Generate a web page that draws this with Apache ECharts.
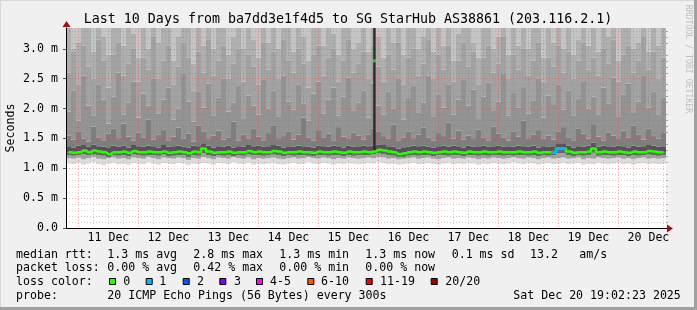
<!DOCTYPE html>
<html><head><meta charset="utf-8">
<script src="https://cdn.jsdelivr.net/npm/echarts@6/dist/echarts.min.js"></script>
<style>html,body{margin:0;padding:0;background:#f0f0f0}#c{width:697px;height:310px}</style>
</head><body><div id="c"></div>
<script>
// ---- data (ms), 120 bins of 2 h from 10 Dec 19:02 to 20 Dec 19:02 ----
const yMax = 3.35;
const startH = 19.04, endH = 259.04; // hours since 10 Dec 00:00
const dayTicks = [24,48,72,96,120,144,168,192,216,240];
const dayLabelPos = [36,60,84,108,132,156,180,204,228,252];
const dayLabels = ['11 Dec','12 Dec','13 Dec','14 Dec','15 Dec','16 Dec','17 Dec','18 Dec','19 Dec','20 Dec'];
const sixHourTicks = [30,36,42,54,60,66,78,84,90,102,108,114,126,132,138,150,156,162,174,180,186,198,204,210,222,228,234,246,252,258];
const yMajor = [0,0.5,1,1.5,2,2.5,3];
const yMinor = [0.1,0.2,0.3,0.4,0.6,0.7,0.8,0.9,1.1,1.2,1.3,1.4,1.6,1.7,1.8,1.9,2.1,2.2,2.3,2.4,2.6,2.7,2.8,2.9,3.1,3.2,3.3];

const med = [1.27,1.26,1.27,1.30,1.27,1.30,1.28,1.27,1.24,1.27, 1.27,1.28,1.26,1.29,1.27,1.27,1.28,1.27,1.27,1.28, 1.26,1.27,1.28,1.27,1.25,1.28,1.27,1.33,1.28,1.26, 1.27,1.27,1.28,1.26,1.27,1.27,1.29,1.27,1.28,1.27, 1.27,1.29,1.28,1.26,1.27,1.27,1.28,1.27,1.27,1.26, 1.28,1.27,1.27,1.28,1.27,1.26,1.28,1.27,1.27,1.28, 1.27,1.28,1.31,1.30,1.28,1.27,1.24,1.25,1.27,1.28, 1.27,1.28,1.27,1.26,1.27,1.28,1.27,1.28,1.27,1.26, 1.28,1.27,1.27,1.28,1.27,1.27,1.28,1.27,1.27,1.27, 1.28,1.27,1.27,1.28,1.26,1.27,1.27,1.27,1.33,1.33, 1.28,1.26,1.27,1.27,1.28,1.33,1.27,1.28,1.27,1.27, 1.28,1.27,1.26,1.28,1.27,1.27,1.29,1.28,1.27,1.27];
const lossBins = [97,98,99];
const lowA = [1.08,1.07,1.09,1.06,1.08,1.10,1.07,1.05,1.08,1.09, 1.07,1.08,1.06,1.09,1.08,1.07,1.10,1.08,1.06,1.09, 1.08,1.07,1.09,1.08,1.05,1.08,1.07,1.09,1.08,1.06, 1.09,1.08,1.07,1.10,1.08,1.07,1.09,1.06,1.08,1.07, 1.08,1.09,1.07,1.06,1.08,1.09,1.07,1.08,1.10,1.08, 1.07,1.09,1.08,1.06,1.08,1.07,1.09,1.08,1.07,1.08, 1.09,1.08,1.10,1.09,1.07,1.08,1.06,1.07,1.08,1.09, 1.07,1.08,1.09,1.07,1.06,1.08,1.09,1.07,1.08,1.07, 1.09,1.08,1.06,1.08,1.07,1.09,1.08,1.07,1.08,1.10, 1.08,1.07,1.09,1.08,1.06,1.08,1.09,1.07,1.08,1.09, 1.07,1.08,1.09,1.06,1.08,1.07,1.09,1.08,1.07,1.08, 1.09,1.07,1.08,1.06,1.08,1.09,1.07,1.08,1.07,1.08];
const lowB = [1.17,1.16,1.18,1.15,1.17,1.19,1.16,1.15,1.17,1.18, 1.16,1.17,1.15,1.18,1.17,1.16,1.19,1.17,1.15,1.18, 1.17,1.16,1.18,1.17,1.14,1.17,1.16,1.19,1.17,1.15, 1.18,1.17,1.16,1.19,1.17,1.16,1.18,1.15,1.17,1.16, 1.17,1.18,1.16,1.15,1.17,1.18,1.16,1.17,1.19,1.17, 1.16,1.18,1.17,1.15,1.17,1.16,1.18,1.17,1.16,1.17, 1.18,1.17,1.19,1.18,1.16,1.17,1.15,1.16,1.17,1.18, 1.16,1.17,1.18,1.16,1.15,1.17,1.18,1.16,1.17,1.16, 1.18,1.17,1.15,1.17,1.16,1.18,1.17,1.16,1.17,1.19, 1.17,1.16,1.18,1.17,1.15,1.17,1.18,1.16,1.17,1.18, 1.16,1.17,1.18,1.15,1.17,1.16,1.18,1.17,1.16,1.17, 1.18,1.16,1.17,1.15,1.17,1.18,1.16,1.17,1.16,1.17];
const lowC = [1.22,1.21,1.22,1.24,1.22,1.23,1.22,1.21,1.19,1.22, 1.21,1.22,1.20,1.23,1.22,1.21,1.22,1.22,1.21,1.23, 1.20,1.21,1.22,1.22,1.19,1.22,1.21,1.25,1.22,1.20, 1.22,1.21,1.22,1.20,1.22,1.21,1.23,1.22,1.22,1.21, 1.22,1.23,1.22,1.20,1.22,1.21,1.22,1.22,1.21,1.20, 1.22,1.22,1.21,1.22,1.22,1.20,1.22,1.21,1.22,1.22, 1.22,1.24,1.25,1.24,1.22,1.21,1.19,1.19,1.21,1.22, 1.21,1.22,1.22,1.20,1.22,1.22,1.21,1.22,1.22,1.20, 1.22,1.22,1.21,1.22,1.21,1.22,1.22,1.21,1.22,1.21, 1.22,1.22,1.21,1.22,1.20,1.22,1.21,1.22,1.25,1.25, 1.22,1.20,1.22,1.21,1.22,1.26,1.21,1.22,1.22,1.21, 1.22,1.22,1.20,1.22,1.21,1.22,1.23,1.22,1.21,1.22];
const h1 = [1.37,1.35,1.38,1.39,1.36,1.40,1.37,1.36,1.34,1.38, 1.36,1.38,1.35,1.39,1.37,1.36,1.38,1.37,1.35,1.39, 1.36,1.37,1.38,1.36,1.35,1.38,1.37,1.42,1.38,1.35, 1.37,1.36,1.38,1.35,1.37,1.36,1.39,1.37,1.38,1.36, 1.37,1.39,1.38,1.35,1.37,1.36,1.38,1.37,1.36,1.35, 1.38,1.37,1.36,1.38,1.37,1.35,1.38,1.36,1.37,1.38, 1.37,1.38,1.40,1.39,1.37,1.36,1.33,1.34,1.36,1.38, 1.37,1.38,1.36,1.35,1.37,1.38,1.36,1.38,1.37,1.35, 1.38,1.36,1.37,1.38,1.36,1.37,1.38,1.36,1.37,1.36, 1.38,1.37,1.36,1.38,1.35,1.37,1.36,1.37,1.42,1.42, 1.38,1.35,1.37,1.36,1.38,1.43,1.36,1.38,1.37,1.36, 1.38,1.37,1.35,1.38,1.36,1.37,1.39,1.38,1.36,1.37];
const h2 = [1.55,1.48,1.62,1.50,1.45,1.70,1.52,1.47,1.58,1.66, 1.49,1.75,1.53,1.46,1.60,1.51,1.82,1.48,1.56,1.64, 1.47,1.53,1.68,1.50,1.58,1.45,1.72,1.61,1.49,1.55, 1.63,1.48,1.52,1.78,1.46,1.57,1.50,1.66,1.53,1.47, 1.59,1.71,1.49,1.54,1.62,1.48,1.56,1.85,1.51,1.46, 1.64,1.52,1.58,1.47,1.69,1.53,1.49,1.60,1.55,1.48, 1.57,1.66,1.62,1.54,1.50,1.73,1.47,1.52,1.61,1.49, 1.56,1.68,1.51,1.46,1.59,1.54,1.77,1.50,1.63,1.48, 1.55,1.49,1.65,1.52,1.47,1.70,1.58,1.51,1.46,1.62, 1.53,1.80,1.49,1.57,1.64,1.50,1.55,1.48,1.61,1.69, 1.52,1.47,1.66,1.58,1.50,1.74,1.53,1.46,1.60,1.55, 1.49,1.63,1.51,1.72,1.56,1.48,1.67,1.54,1.50,1.59];
const h3 = [1.95,2.30,1.80,2.55,2.05,1.88,2.40,2.15,1.75,2.20, 2.60,1.90,2.10,2.45,1.85,2.25,2.05,2.50,1.92,2.15, 2.35,1.82,2.00,2.58,2.12,1.78,2.28,2.02,2.42,1.88, 2.18,2.50,1.95,2.10,2.38,1.84,2.22,2.05,1.90,2.48, 2.00,2.30,1.86,2.55,2.12,1.98,2.40,2.08,1.80,2.25, 2.45,1.92,2.15,2.35,1.88,2.20,2.52,1.96,2.10,2.30, 1.85,2.42,2.05,1.90,2.28,2.00,2.50,1.82,2.18,2.38, 1.94,2.10,2.55,1.86,2.24,2.02,2.40,1.90,2.15,2.48, 2.05,2.32,1.84,2.20,2.44,1.96,2.12,2.58,1.88,2.26, 2.02,2.36,1.92,2.14,2.50,1.85,2.22,2.06,2.40,1.98, 2.30,1.88,2.16,2.46,2.00,2.20,1.90,2.35,2.08,2.52, 1.86,2.24,2.42,1.94,2.12,2.56,2.02,2.28,1.90,2.18];
const h4 = [2.60,2.95,2.40,3.05,2.70,2.50,3.15,2.80,2.35,2.90, 3.10,2.55,2.75,3.00,2.45,2.85,2.65,3.20,2.50,2.80, 3.05,2.40,2.70,3.10,2.85,2.30,2.95,2.60,3.15,2.55, 2.80,3.05,2.50,2.75,3.00,2.45,2.90,2.70,2.40,3.10, 2.65,2.95,2.50,3.15,2.80,2.60,3.00,2.75,2.35,2.90, 3.05,2.55,2.85,3.00,2.45,2.80,3.15,2.60,2.75,2.95, 2.50,3.05,2.70,2.45,2.90,2.65,3.10,2.40,2.85,3.00, 2.55,2.75,3.15,2.50,2.90,2.65,3.05,2.45,2.80,3.10, 2.70,2.95,2.40,2.85,3.05,2.60,2.75,3.20,2.50,2.90, 2.65,3.00,2.55,2.80,3.10,2.45,2.85,2.70,3.05,2.60, 2.95,2.50,2.80,3.10,2.65,2.85,2.55,3.00,2.75,3.15, 2.45,2.90,3.05,2.60,2.80,3.20,2.65,2.95,2.50,2.85];
const h5 = [3.35,3.00,3.10,3.35,3.35,2.95,3.35,3.20,2.90,3.35, 3.35,3.05,3.35,3.25,2.85,3.35,3.00,3.35,3.10,3.35, 3.35,2.80,3.20,3.35,3.35,2.75,3.35,3.05,3.35,3.00, 3.35,3.35,2.90,3.20,3.35,3.00,3.35,3.15,2.85,3.35, 3.10,3.35,3.00,3.35,3.35,2.95,3.35,3.20,2.80,3.35, 3.35,3.05,3.35,3.25,2.90,3.35,3.35,3.00,3.10,3.35, 2.95,3.35,3.20,2.85,3.35,3.10,3.35,2.90,3.35,3.35, 3.00,3.20,3.35,2.95,3.35,3.05,3.35,2.80,3.25,3.35, 3.35,3.10,2.85,3.35,3.35,3.00,3.20,3.35,2.90,3.35, 3.05,3.35,3.00,3.35,3.35,2.85,3.35,3.10,3.35,3.00, 3.35,2.90,3.15,3.35,3.05,3.35,2.95,3.35,3.20,3.35, 2.80,3.35,3.35,3.00,3.10,3.35,2.95,3.35,3.05,3.35];
// single high-latency spike (15 Dec ~22:24)
const spikeT = [142.4];
const spikeMed = [2.8];
const spikeBase = [1.28];

const legendRows = [
  {y:254.5, items:[[16,'median rtt:'],[107.3,'1.3 ms avg'],[193.3,'2.8 ms max'],[279.3,'1.3 ms min'],[365.3,'1.3 ms now'],[451.7,'0.1 ms sd'],[530,'13.2'],[579.3,'am/s']]},
  {y:268, items:[[16,'packet loss:'],[107.3,'0.00 % avg'],[193.3,'0.42 % max'],[279.3,'0.00 % min'],[365.3,'0.00 % now']]},
  {y:282, items:[[16,'loss color:']]},
  {y:295.7, items:[[16,'probe:'],[107.3,'20 ICMP Echo Pings (56 Bytes) every 300s'],[513.3,'Sat Dec 20 19:02:23 2025']]}
];
const lossLegend = [
  [109,123.3,'0','#26ff00'],[145.7,159.3,'1','#00b8ff'],[182.7,197,'2','#0059ff'],[219.3,234,'3','#7e00ff'],
  [256,270,'4-5','#ff00ff'],[307.3,321,'6-10','#ff5500'],[365.7,380,'11-19','#ff0000'],[430.7,445.3,'20/20','#a10000']
];

// ---- build ----
const MONO = '"DejaVu Sans Mono", monospace';
const cats = med.map((_, i) => String(i));
const layers = [
  [lowA, lowB, '#dcdcdc'],
  [lowB, lowC, '#a2a2a2'],
  [lowC, med, '#676767'],
  [med, h1, '#545454'],
  [h1, h2, '#7e7e7e'],
  [h2, h3, '#939393'],
  [h3, h4, '#a2a2a2'],
  [h4, h5, '#afafaf'],
  [h5, null, '#c4c4c4']
];
const series = [{
  type:'bar', stack:'smoke', data: lowA, itemStyle:{color:'rgba(0,0,0,0)'},
  barCategoryGap:'0%', silent:true, z:2
}];
layers.forEach(([lo, hi, col]) => {
  series.push({
    type:'bar', stack:'smoke', barCategoryGap:'0%', silent:true, z:2,
    itemStyle:{color:col},
    data: lo.map((v, i) => +(((hi ? hi[i] : yMax) - v)).toFixed(3))
  });
});
series.push({
  type:'line', xAxisIndex:0, data: med, step:'middle', showSymbol:false, silent:true,
  lineStyle:{width:2.5, color:'#26ff00'}, itemStyle:{color:'#26ff00'}, z:10
});
series.push({
  type:'line', xAxisIndex:0, data: med.map((v, i) => lossBins.includes(i) ? v : null), step:'middle',
  showSymbol:false, silent:true, connectNulls:false,
  lineStyle:{width:2.5, color:'#00b8ff'}, z:11
});
series.push({
  type:'line', xAxisIndex:1, data: [[spikeT[0], spikeBase[0]], [spikeT[0], yMax]], showSymbol:false, silent:true,
  lineStyle:{width:2.4, color:'#2b2b2b'}, z:9
});
series.push({
  type:'scatter', xAxisIndex:1, data: [[spikeT[0], spikeMed[0]]], symbol:'rect', symbolSize:[3,3],
  itemStyle:{color:'#26ff00'}, silent:true, z:12
});

const graphic = [];
// frame
graphic.push({type:'rect', shape:{x:0,y:0,width:697,height:310}, style:{fill:'#f0f0f0'}, z:-10, silent:true});
graphic.push({type:'line', shape:{x1:0,y1:0.5,x2:697,y2:0.5}, style:{stroke:'#d8d8d8', lineWidth:1}, silent:true});
graphic.push({type:'line', shape:{x1:0.5,y1:0,x2:0.5,y2:310}, style:{stroke:'#d8d8d8', lineWidth:1}, silent:true});
graphic.push({type:'line', shape:{x1:0,y1:308.5,x2:697,y2:308.5}, style:{stroke:'#a0a0a0', lineWidth:3}, silent:true});
graphic.push({type:'line', shape:{x1:695.5,y1:0,x2:695.5,y2:310}, style:{stroke:'#a0a0a0', lineWidth:3}, silent:true});
// title
graphic.push({type:'text', x:348, y:19.5, silent:true, style:{text:'Last 10 Days from ba7dd3e1f4d5 to SG StarHub AS38861 (203.116.2.1)', font:'13.3px '+MONO, fill:'#000', textAlign:'center', textVerticalAlign:'middle'}});
// y name
graphic.push({type:'text', x:10.5, y:128, rotation:Math.PI/2, silent:true, style:{text:'Seconds', font:'11.6px '+MONO, fill:'#000', textAlign:'center', textVerticalAlign:'middle'}});
// watermark
graphic.push({type:'text', x:688, y:59, rotation:-Math.PI/2, silent:true, style:{text:'RRDTOOL / TOBI OETIKER', font:'8.2px '+MONO, fill:'#c0c0c0', textAlign:'center', textVerticalAlign:'middle'}});
// axis arrows
graphic.push({type:'line', shape:{x1:666,y1:228.5,x2:668,y2:228.5}, style:{stroke:'#000', lineWidth:1}, silent:true, z:20});
graphic.push({type:'polygon', shape:{points:[[667,224.5],[673,228.5],[667,232.5]]}, style:{fill:'#a01010'}, silent:true, z:20});
graphic.push({type:'polygon', shape:{points:[[62.5,27],[66.5,21],[70.5,27]]}, style:{fill:'#a01010'}, silent:true, z:20});
// legend texts
legendRows.forEach(r => r.items.forEach(([x, t]) => {
  graphic.push({type:'text', x:x, y:r.y, silent:true, style:{text:t, font:'11.6px '+MONO, fill:'#000', textAlign:'left', textVerticalAlign:'middle'}});
}));
lossLegend.forEach(([bx, tx, t, col]) => {
  graphic.push({type:'rect', shape:{x:bx+0.5, y:278.5, width:6, height:6}, style:{fill:col, stroke:'#000', lineWidth:1}, silent:true});
  graphic.push({type:'text', x:tx, y:282, silent:true, style:{text:t, font:'11.6px '+MONO, fill:'#000', textAlign:'left', textVerticalAlign:'middle'}});
});

const option = {
  animation:false,
  backgroundColor:'#f0f0f0',
  grid:{left:66, right:31, top:28, bottom:82, show:true, backgroundColor:'#ffffff', borderWidth:0},
  xAxis:[
    {type:'category', data:cats, show:false, boundaryGap:true},
    {type:'value', min:startH, max:endH, position:'bottom', z:5,
      axisLine:{show:true, onZero:false, lineStyle:{color:'#000', width:1}},
      axisTick:{show:false, customValues:dayTicks},
      axisLabel:{customValues:dayLabelPos, margin:4, color:'#000', fontFamily:MONO, fontSize:11.6,
        formatter:v => dayLabels[dayLabelPos.indexOf(Math.round(v))] || ''},
      splitLine:{show:true, lineStyle:{color:'rgba(255,60,60,0.45)', type:[1,2], width:1}}},
    {type:'value', min:startH, max:endH, position:'bottom', z:4,
      axisLine:{show:false}, axisLabel:{show:false},
      axisTick:{show:false, customValues:sixHourTicks},
      splitLine:{show:true, lineStyle:{color:'rgba(120,120,120,0.35)', type:[1,2], width:1}}}
  ],
  yAxis:[
    {type:'value', min:0, max:yMax, z:5,
      axisLine:{show:true, onZero:false, lineStyle:{color:'#000', width:1}},
      axisTick:{show:true, length:3, customValues:yMajor, lineStyle:{color:'#555'}},
      axisLabel:{customValues:yMajor, margin:8, color:'#000', fontFamily:MONO, fontSize:11.6,
        formatter:v => v === 0 ? '0.0' : v.toFixed(1) + ' m'},
      splitLine:{show:true, lineStyle:{color:'rgba(255,60,60,0.45)', type:[1,2], width:1}}},
    {type:'value', min:0, max:yMax, z:4,
      axisLine:{show:false}, axisLabel:{show:false},
      axisTick:{show:true, length:2, customValues:yMinor, lineStyle:{color:'#aaa'}},
      splitLine:{show:true, lineStyle:{color:'rgba(120,120,120,0.35)', type:[1,2], width:1}}}
  ],
  series: series,
  graphic: graphic
};
const chart = echarts.init(document.getElementById('c'), null, {renderer:'canvas'});
chart.setOption(option);
</script>
</body></html>
